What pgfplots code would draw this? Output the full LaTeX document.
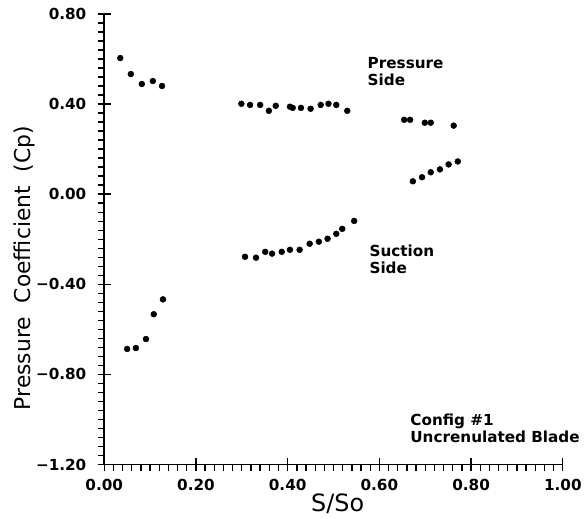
\documentclass[border=0pt]{standalone}
\usepackage{fontspec}
\setmainfont{DejaVu Sans}
\usepackage{pgfplots}
\pgfplotsset{compat=1.18}

% Cp data
\pgfplotstableread{
x      y
0.035  0.604
0.058  0.533
0.082  0.489
0.106  0.502
0.126  0.480
0.299  0.401
0.318  0.396
0.340  0.396
0.359  0.370
0.374  0.392
0.405  0.388
0.411  0.383
0.429  0.383
0.450  0.379
0.472  0.396
0.489  0.401
0.506  0.396
0.530  0.370
0.654  0.330
0.667  0.330
0.699  0.317
0.712  0.317
0.762  0.304
}\pressure

\pgfplotstableread{
x      y
0.050  -0.687
0.069  -0.683
0.091  -0.643
0.108  -0.533
0.128  -0.467
0.307  -0.278
0.331  -0.282
0.351  -0.256
0.366  -0.264
0.387  -0.256
0.405  -0.247
0.426  -0.247
0.448  -0.220
0.468  -0.211
0.487  -0.198
0.506  -0.176
0.519  -0.154
0.545  -0.119
0.673  0.057
0.693  0.075
0.712  0.097
0.732  0.110
0.751  0.132
0.771  0.145
}\suction

\begin{document}
\begin{tikzpicture}
\begin{axis}[
  scale only axis,
  width=346.5pt, height=340.5pt,
  xmin=0, xmax=1, ymin=-1.2, ymax=0.8,
  axis x line*=bottom, axis y line*=left,
  axis line style={line width=1.2pt},
  xtick={0,0.2,0.4,0.6,0.8,1},
  xticklabels={0.00,0.20,0.40,0.60,0.80,1.00},
  ytick={-1.2,-0.8,-0.4,0,0.4,0.8},
  yticklabels={−1.20,−0.80,−0.40,0.00,0.40,0.80},
  minor x tick num=9, minor y tick num=9,
  tick align=outside,
  major tick length=5pt, minor tick length=5pt,
  every tick/.style={black, line width=1pt},
  extra x ticks={0,0.2,0.4,0.6,0.8,1}, extra x tick labels={},
  extra x tick style={tick align=center, major tick length=10pt},
  extra y ticks={-1.2,-0.8,-0.4,0,0.4,0.8}, extra y tick labels={},
  extra y tick style={tick align=center, major tick length=10pt},
  tick label style={font=\fontsize{11.5}{12}\selectfont\bfseries},
  yticklabel style={xshift=-5pt},
  xticklabel style={yshift=-2.5pt},
  xlabel={S/So},
  xlabel style={font=\fontsize{18}{20}\selectfont, at={(axis description cs:0.509,-0.088)}, anchor=center},
  ylabel={Pressure\ \ Coefficient\ \ (Cp)},
  ylabel style={font=\fontsize{16.5}{18}\selectfont, at={(axis description cs:-0.173,0.436)}, anchor=center, rotate=0},
  clip=false,
]
\addplot[only marks, mark=*, mark size=2.2pt, black] table[x=x, y=y] {\pressure};
\addplot[only marks, mark=*, mark size=2.2pt, black] table[x=x, y=y] {\suction};

\node[anchor=north west, inner sep=0pt, align=left,
      font=\fontsize{11.5}{12.75}\selectfont\bfseries] at (axis cs:0.574,0.608) {Pressure\\Side};
\node[anchor=north west, inner sep=0pt, align=left,
      font=\fontsize{11.5}{12.75}\selectfont\bfseries] at (axis cs:0.578,-0.225) {Suction\\Side};
\node[anchor=north west, inner sep=0pt, align=left,
      font=\fontsize{11.5}{12.75}\selectfont\bfseries] at (axis cs:0.667,-0.974) {Config \#1\\Uncrenulated Blade};

% page frame matching the 586x516 reference
\path (rel axis cs:-0.2273,-0.1057) rectangle (rel axis cs:1.0411,1.0308);
\end{axis}
\end{tikzpicture}
\end{document}
